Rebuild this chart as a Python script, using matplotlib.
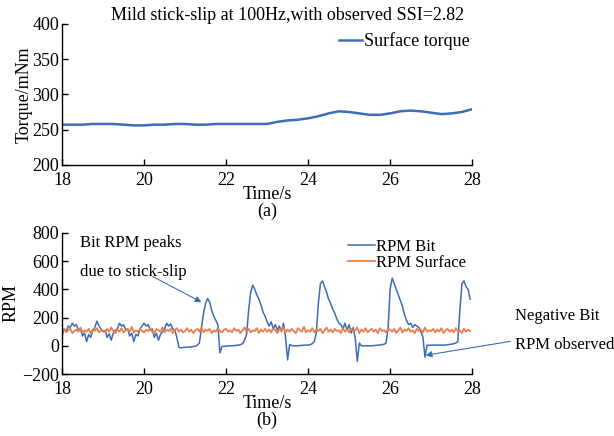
import numpy as np
import matplotlib
matplotlib.use("Agg")
import matplotlib.pyplot as plt

plt.rcParams['font.family'] = ['Liberation Serif', 'DejaVu Serif']
plt.rcParams['mathtext.fontset'] = 'stix'

# ---------------- data ----------------
title_text = "Mild stick-slip at 100Hz,with observed SSI=2.82"

torque_time = np.arange(18.0, 28.01, 0.25)
torque_values = [257, 257, 257, 258, 258, 258, 257, 256, 256, 257,
                 257, 258, 258, 257, 257, 258, 258, 258, 258, 258,
                 258, 261, 263, 264, 266, 269, 273, 276, 275, 273,
                 271, 271, 273, 276, 277, 276, 274, 272, 273, 275,
                 279]

rpm_time = np.arange(200) * 0.05 + 18.0
rpm_bit = [70, 120, 100, 140, 130, 160, 140, 150, 110, 120, 70, 90, 30, 80, 60, 110, 130, 175, 140, 120,
           100, 110, 60, 85, 40, 90, 110, 120, 160, 140, 150, 115, 120, 70, 90, 30, 80, 70, 120, 140,
           160, 140, 150, 110, 120, 60, 90, 40, 80, 100, 120, 160, 140, 155, 120, 110, 60, -10, -15, -12,
           -10, -10, -8, -8, -5, -3, 5, 20, 130, 230, 300, 335, 310, 250, 210, 180, 150, -50, -5, -3,
           -2, 0, 0, 0, 2, 3, 5, 8, 15, 40, 80, 250, 380, 430, 400, 360, 330, 290, 240, 210,
           170, 140, 170, 120, 150, 110, 140, 100, 160, 60, -100, 10, 2, 0, 0, 0, 2, 3, 5, 5,
           5, 8, 15, 30, 90, 300, 440, 460, 420, 380, 330, 300, 260, 230, 190, 160, 150, 120, 160, 110,
           150, 90, 130, 50, -110, 20, 0, 0, 0, 0, 0, 0, 2, 3, 5, 5, 10, 10, 20, 120,
           400, 480, 440, 400, 360, 320, 280, 220, 180, 150, 160, 130, 150, 140, 130, 100, 60, -80, 5, 3,
           5, 5, 5, 5, 5, 5, 5, 5, 8, 10, 12, 15, 20, 30, 250, 440, 460, 420, 400, 330]
rpm_surface = [100, 120, 95, 110, 125, 90, 105, 115, 100, 130, 95, 110, 100, 120, 90, 115, 105, 125, 95, 110,
               110, 95, 120, 100, 130, 105, 90, 115, 100, 125, 95, 110, 120, 100, 135, 95, 110, 100, 120, 105,
               95, 115, 105, 125, 100, 90, 120, 110, 100, 130, 95, 115, 105, 120, 90, 110, 125, 100, 115, 95,
               105, 125, 100, 115, 90, 110, 120, 100, 130, 95, 115, 105, 120, 90, 110, 100, 125, 105, 95, 115,
               120, 100, 110, 95, 125, 105, 115, 90, 110, 130, 100, 120, 95, 110, 105, 125, 90, 115, 100, 120,
               100, 115, 95, 125, 110, 90, 120, 105, 130, 95, 115, 100, 120, 105, 90, 125, 110, 100, 135, 95,
               110, 100, 125, 95, 115, 105, 120, 90, 110, 130, 100, 115, 95, 120, 105, 110, 90, 125, 100, 115,
               95, 120, 105, 110, 130, 90, 115, 100, 125, 95, 110, 120, 100, 115, 90, 125, 105, 110, 95, 120,
               115, 100, 120, 90, 110, 130, 95, 115, 105, 125, 100, 110, 90, 120, 105, 115, 95, 130, 100, 110,
               105, 120, 95, 115, 100, 125, 90, 110, 120, 100, 115, 95, 125, 105, 110, 90, 120, 100, 115, 105]

x_ticks = [18, 20, 22, 24, 26, 28]
torque_yticks = [200, 250, 300, 350, 400]
rpm_yticks = [-200, 0, 200, 400, 600, 800]

BLUE = '#3d6db5'
ORANGE = '#e8804c'
FS = 13
FS2 = 12

fig = plt.figure(figsize=(6.14, 4.36), dpi=100)
ax1 = fig.add_axes([0.101, 0.622, 0.668, 0.323])
ax2 = fig.add_axes([0.101, 0.142, 0.668, 0.324])


def style(ax):
    for s in ['top', 'right']:
        ax.spines[s].set_visible(False)
    for s in ['left', 'bottom']:
        ax.spines[s].set_linewidth(1.0)
    ax.tick_params(direction='in', length=4, width=1.0, labelsize=FS)
    ax.tick_params(axis='y', pad=2)
    ax.tick_params(axis='x', pad=5)
    ax.set_xlim(18, 28)
    ax.set_xticks(x_ticks)


# top panel
ax1.plot(torque_time, torque_values, color=BLUE, lw=1.8, label='Surface torque')
style(ax1)
ax1.set_ylim(200, 400)
ax1.set_yticks(torque_yticks)
ax1.set_ylabel('Torque/mNm', fontsize=FS, labelpad=0)
ax1.set_xlabel('Time/s\n(a)', fontsize=FS, labelpad=-2, linespacing=0.95)
ax1.set_title(title_text, fontsize=FS, x=0.55, pad=3)
ax1.legend(loc='upper right', bbox_to_anchor=(1.02, 1.02), frameon=False,
           fontsize=FS, handlelength=1.3, handletextpad=0.1, borderaxespad=0.2)

# bottom panel
ax2.plot(rpm_time, rpm_bit, color=BLUE, lw=1.1, label='RPM Bit')
ax2.plot(rpm_time, rpm_surface, color=ORANGE, lw=1.3, label='RPM Surface')
style(ax2)
ax2.set_ylim(-200, 800)
ax2.set_yticks(rpm_yticks)
ax2.set_ylabel('RPM', fontsize=FS, labelpad=2)
ax2.set_xlabel('Time/s\n(b)', fontsize=FS, labelpad=-2, linespacing=0.95)
ax2.legend(loc='upper right', bbox_to_anchor=(1.01, 1.03), frameon=False,
           fontsize=FS2, handlelength=1.6, handletextpad=0.1, borderaxespad=0.2,
           labelspacing=0.0)

ax2.text(18.45, 730, 'Bit RPM peaks', fontsize=FS2, va='center')
ax2.text(18.45, 520, 'due to stick-slip', fontsize=FS2, va='center')
ax2.annotate('', xy=(21.46, 300), xytext=(20.15, 500),
             arrowprops=dict(arrowstyle='-|>', color=BLUE, lw=0.8, mutation_scale=9))
ax2.text(29.05, 210, 'Negative Bit', fontsize=FS2, va='center', clip_on=False)
ax2.text(29.05, 5, 'RPM observed', fontsize=FS2, va='center', clip_on=False)
ax2.annotate('', xy=(26.80, -70), xytext=(29.0, 35), annotation_clip=False,
             arrowprops=dict(arrowstyle='-|>', color=BLUE, lw=0.8, mutation_scale=9))

fig.savefig('out.png', dpi=100)
